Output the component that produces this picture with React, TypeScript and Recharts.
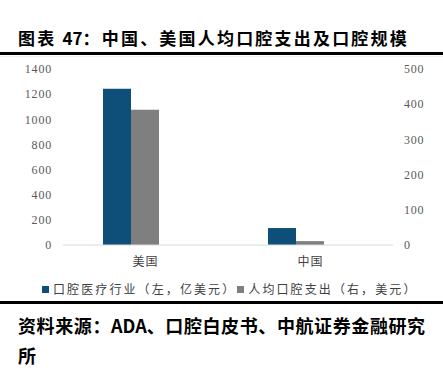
import React from 'react';
import { BarChart, Bar, XAxis, YAxis } from 'recharts';

const categories = ['美国', '中国'];
const industrySize = [1242, 135]; // 口腔医疗行业（左，亿美元）
const perCapita = [384, 11]; // 人均口腔支出（右，美元）
const spacer = [0, 0];
const leftTicks = [0, 200, 400, 600, 800, 1000, 1200, 1400];
const rightTicks = [0, 100, 200, 300, 400, 500];

const data = categories.map((c, i) => ({
  name: c,
  industry: industrySize[i],
  perCapita: perCapita[i],
  spacer: spacer[i],
}));

const BLUE = '#0e4f79';
const GRAY = '#7f7f7f';
const tickStyle = { fontFamily: '"Liberation Serif", serif', fontSize: 12, fill: '#595959', letterSpacing: 0.8 };
const cjk = '"Noto Sans CJK SC", sans-serif';

export default function App() {
  return (
    <div style={{ position: 'absolute', left: 0, top: 0, width: 443, height: 380, background: '#fff', overflow: 'hidden' }}>
      <div
        style={{
          position: 'absolute', left: 18, top: 27, fontSize: 17, fontWeight: 700,
          fontFamily: cjk, letterSpacing: 2.2, color: '#000', whiteSpace: 'nowrap', lineHeight: '22px',
        }}
      >
        图表 <span style={{ letterSpacing: 0 }}>47</span>：中国、美国人均口腔支出及口腔规模
      </div>
      <div style={{ position: 'absolute', left: 0, top: 52, width: 443, height: 3, background: '#000' }} />
      <div style={{ position: 'absolute', left: 0, top: 56, width: 443, height: 1, background: '#eeeeee' }} />
      <div style={{ position: 'absolute', left: 0, top: 0 }}>
        <BarChart
          width={443}
          height={300}
          data={data}
          margin={{ top: 69, right: 0, bottom: 25, left: 0 }}
          barGap={0}
        >
          <XAxis
            dataKey="name"
            height={30}
            tickLine={false}
            tickMargin={6}
            axisLine={{ stroke: '#d9d9d9' }}
            tick={{ ...tickStyle, fontFamily: cjk, fill: '#404040', letterSpacing: 1 }}
          />
          <YAxis
            yAxisId="left"
            orientation="left"
            width={63}
            domain={[0, 1400]}
            ticks={leftTicks}
            interval={0}
            axisLine={false}
            tickLine={false}
            tickSize={0}
            tickMargin={11}
            tick={tickStyle}
          />
          <YAxis
            yAxisId="right"
            orientation="right"
            width={50}
            domain={[0, 500]}
            ticks={rightTicks}
            interval={0}
            axisLine={false}
            tickLine={false}
            tickSize={0}
            tickMargin={11}
            tick={{ ...tickStyle, textAnchor: 'start' }}
          />
          <Bar yAxisId="left" dataKey="industry" fill={BLUE} barSize={28} isAnimationActive={false} />
          <Bar yAxisId="right" dataKey="perCapita" fill={GRAY} barSize={28} isAnimationActive={false} />
          <Bar yAxisId="left" dataKey="spacer" fill="transparent" barSize={29} isAnimationActive={false} legendType="none" />
        </BarChart>
      </div>
      <div
        style={{
          position: 'absolute', left: 42, top: 281, fontSize: 12, color: '#404040',
          fontFamily: cjk, letterSpacing: 2.1, whiteSpace: 'nowrap', lineHeight: '16px',
          display: 'flex', alignItems: 'center',
        }}
      >
        <span style={{ display: 'inline-block', width: 7, height: 7, background: BLUE, marginRight: 4 }} />
        <span>口腔医疗行业（左，亿美元）</span>
        <span style={{ display: 'inline-block', width: 7, height: 7, background: GRAY, marginRight: 4, marginLeft: 1 }} />
        <span>人均口腔支出（右，美元）</span>
      </div>
      <div style={{ position: 'absolute', left: 0, top: 301, width: 443, height: 3, background: '#000' }} />
      <div
        style={{
          position: 'absolute', left: 18, top: 310, fontSize: 18, fontWeight: 700,
          fontFamily: cjk, letterSpacing: 0.6, color: '#000', whiteSpace: 'nowrap', lineHeight: '30px',
        }}
      >
        资料来源：<span style={{ letterSpacing: 0 }}>ADA</span>、口腔白皮书、中航证券金融研究
        <br />
        所
      </div>
    </div>
  );
}
